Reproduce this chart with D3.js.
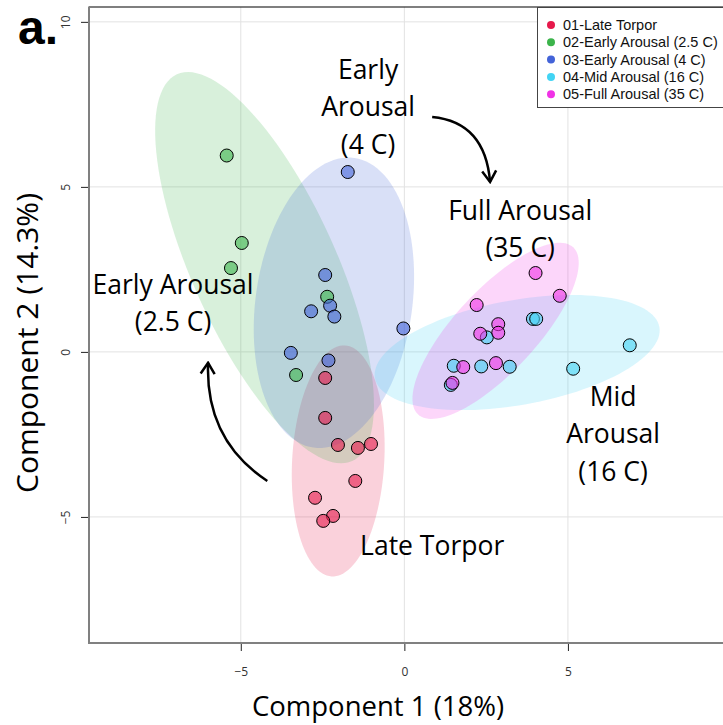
<!DOCTYPE html>
<html>
<head>
<meta charset="utf-8">
<script src="https://cdn.jsdelivr.net/npm/d3@7"></script>
<style>
  body { margin: 0; background: #fff; }
  svg { display: block; }
</style>
</head>
<body>
<div id="chart"></div>
<script>
// groups, colours and PCA scores
var groups = ["01-Late Torpor", "02-Early Arousal (2.5 C)", "03-Early Arousal (4 C)", "04-Mid Arousal (16 C)", "05-Full Arousal (35 C)"];
var colors = ["#e6194B", "#3cb44b", "#4363d8", "#42d4f4", "#f032e6"];

var lateTorpor = [[-2.42, -0.79], [-2.42, -2.0], [-2.03, -2.82], [-1.42, -2.91], [-1.02, -2.79],
                  [-1.5, -3.91], [-2.73, -4.42], [-2.18, -4.97], [-2.48, -5.12]];
var earlyArousal25 = [[-5.43, 5.95], [-4.97, 3.30], [-5.30, 2.54], [-2.36, 1.67], [-3.31, -0.70]];
var earlyArousal4 = [[-1.73, 5.45], [-2.42, 2.33], [-2.27, 1.40], [-2.85, 1.23], [-2.14, 1.07],
                     [-0.03, 0.71], [-3.47, -0.03], [-2.32, -0.26]];
var midArousal = [[3.93, 1.0], [4.03, 1.0], [2.52, 0.44], [6.89, 0.20], [1.51, -0.42],
                  [2.35, -0.44], [3.22, -0.45], [5.16, -0.51], [1.42, -1.0]];
var fullArousal = [[4.01, 2.39], [4.75, 1.70], [2.21, 1.42], [2.87, 0.84], [2.87, 0.58],
                   [2.32, 0.55], [1.80, -0.46], [2.80, -0.34], [1.47, -0.94]];
var series = [lateTorpor, earlyArousal25, earlyArousal4, midArousal, fullArousal];

var xTicks = [-5, 0, 5];
var yTicks = [-5, 0, 5, 10];
var xTitle = "Component 1 (18%)";
var yTitle = "Component 2 (14.3%)";

// text labels and arrows on the plot, in data units
var labels = [
  {lines: ["Early", "Arousal", "(4 C)"], x: -1.11, y: 8.55},
  {lines: ["Full Arousal", "(35 C)"], x: 3.54, y: 4.27},
  {lines: ["Early Arousal", "(2.5 C)"], x: -7.07, y: 2.03},
  {lines: ["Mid", "Arousal", "(16 C)"], x: 6.38, y: -1.36},
  {lines: ["Late Torpor"], x: 0.85, y: -5.88}
];
var arrows = [
  [[0.85, 7.12], [2.47, 6.97], [2.62, 5.15]],
  [[-4.19, -3.91], [-6.09, -2.67], [-6.0, -0.33]]
];

var width = 723, height = 725;
var x = d3.scaleLinear().domain([-9.64, 9.74]).range([89, 723]);
var y = d3.scaleLinear().domain([-8.82, 10.45]).range([643, 7]);

var svg = d3.select("#chart").append("svg")
  .attr("width", width)
  .attr("height", height);

var defs = svg.append("defs");
defs.append("clipPath").attr("id", "clip")
  .append("rect")
  .attr("x", 89).attr("y", 7)
  .attr("width", 634).attr("height", 636);
defs.append("marker")
  .attr("id", "head")
  .attr("markerUnits", "userSpaceOnUse")
  .attr("viewBox", "-14 -9 16 18")
  .attr("markerWidth", 16).attr("markerHeight", 18)
  .attr("refX", 0).attr("refY", 0)
  .attr("orient", "auto")
  .append("path")
  .attr("d", "M-11,-7 L0,0 L-11,7")
  .attr("fill", "none")
  .attr("stroke", "#000")
  .attr("stroke-width", 2.5);

// grid
var grid = svg.append("g");
grid.selectAll(".gx").data(xTicks).enter().append("line")
  .attr("x1", d => x(d)).attr("x2", d => x(d))
  .attr("y1", 7).attr("y2", 643)
  .attr("stroke", "#e2e2e2");
grid.selectAll(".gy").data(yTicks).enter().append("line")
  .attr("x1", 89).attr("x2", 723)
  .attr("y1", d => y(d)).attr("y2", d => y(d))
  .attr("stroke", "#e2e2e2");

// 95% normal confidence ellipses
function ellipse(pts) {
  var n = pts.length;
  var mx = d3.mean(pts, d => d[0]), my = d3.mean(pts, d => d[1]);
  var sxx = 0, syy = 0, sxy = 0;
  pts.forEach(function(d) {
    sxx += (d[0] - mx) * (d[0] - mx);
    syy += (d[1] - my) * (d[1] - my);
    sxy += (d[0] - mx) * (d[1] - my);
  });
  sxx /= (n - 1); syy /= (n - 1); sxy /= (n - 1);
  var tr = sxx + syy, det = sxx * syy - sxy * sxy;
  var disc = Math.sqrt(tr * tr / 4 - det);
  var l1 = tr / 2 + disc, l2 = tr / 2 - disc;
  var ang = Math.atan2(l1 - sxx, sxy);
  var t = Math.sqrt(-2 * Math.log(0.05));
  var a = t * Math.sqrt(l1), b = t * Math.sqrt(Math.max(l2, 0));
  var out = [];
  for (var i = 0; i < 120; i++) {
    var th = i / 120 * 2 * Math.PI;
    var u = a * Math.cos(th), v = b * Math.sin(th);
    out.push([mx + u * Math.cos(ang) - v * Math.sin(ang), my + u * Math.sin(ang) + v * Math.cos(ang)]);
  }
  return out;
}

var line = d3.line().x(d => x(d[0])).y(d => y(d[1])).curve(d3.curveLinearClosed);
var plot = svg.append("g").attr("clip-path", "url(#clip)");

plot.selectAll(".ell").data(series).enter().append("path")
  .attr("class", "ell")
  .attr("d", d => line(ellipse(d)))
  .attr("fill", (d, i) => colors[i])
  .attr("fill-opacity", 0.2)
  .attr("stroke", "none");

series.forEach(function(s, i) {
  plot.selectAll(".pt" + i).data(s).enter().append("circle")
    .attr("cx", d => x(d[0]))
    .attr("cy", d => y(d[1]))
    .attr("r", 6.5)
    .attr("fill", colors[i])
    .attr("fill-opacity", 0.6)
    .attr("stroke", "#000")
    .attr("stroke-width", 1);
});

// annotations
labels.forEach(function(l) {
  var t = svg.append("text")
    .attr("text-anchor", "middle")
    .style("font-family", "'Open Sans', sans-serif")
    .style("font-size", "26.5px")
    .attr("fill", "#000");
  l.lines.forEach(function(s, k) {
    t.append("tspan")
      .attr("x", x(l.x))
      .attr("y", y(l.y) + 9 + k * 37.5)
      .text(s);
  });
});

svg.selectAll(".arrow").data(arrows).enter().append("path")
  .attr("d", d => "M" + x(d[0][0]) + "," + y(d[0][1]) + " Q" + x(d[1][0]) + "," + y(d[1][1]) + " " + x(d[2][0]) + "," + y(d[2][1]))
  .attr("fill", "none")
  .attr("stroke", "#000")
  .attr("stroke-width", 2.5)
  .attr("marker-end", "url(#head)");

// frame and axes
svg.append("rect")
  .attr("x", 89).attr("y", 7)
  .attr("width", 640).attr("height", 636)
  .attr("fill", "none")
  .attr("stroke", "#000");
svg.append("line").attr("x1", 89).attr("x2", 89).attr("y1", 7).attr("y2", 644)
  .attr("stroke", "#808080").attr("stroke-width", 2);
svg.append("line").attr("x1", 88).attr("x2", 723).attr("y1", 643).attr("y2", 643)
  .attr("stroke", "#808080").attr("stroke-width", 2);

var xAxis = svg.append("g")
  .attr("transform", "translate(0,644)")
  .call(d3.axisBottom(x).tickValues(xTicks).tickSize(7).tickPadding(16).tickSizeOuter(0));
xAxis.select(".domain").remove();
xAxis.selectAll("line").attr("stroke", "#222");
xAxis.selectAll("text")
  .style("font-family", "'Open Sans', sans-serif")
  .style("font-size", "12px")
  .attr("fill", "#333");

var yAxis = svg.append("g")
  .attr("transform", "translate(88,0)")
  .call(d3.axisLeft(y).tickValues(yTicks).tickSize(7).tickSizeOuter(0));
yAxis.select(".domain").remove();
yAxis.selectAll("line").attr("stroke", "#222");
yAxis.selectAll("text")
  .attr("x", null).attr("dy", null)
  .attr("text-anchor", "middle")
  .attr("transform", "translate(-18,0) rotate(-90)")
  .style("font-family", "'Open Sans', sans-serif")
  .style("font-size", "12px")
  .attr("fill", "#333");

svg.append("text")
  .attr("x", 378).attr("y", 716)
  .attr("text-anchor", "middle")
  .style("font-family", "'Open Sans', sans-serif")
  .style("font-size", "27.5px")
  .attr("fill", "#000")
  .text(xTitle);

svg.append("text")
  .attr("transform", "translate(38,343) rotate(-90)")
  .attr("text-anchor", "middle")
  .style("font-family", "'Open Sans', sans-serif")
  .style("font-size", "30px")
  .attr("fill", "#000")
  .text(yTitle);

svg.append("text")
  .attr("x", 18).attr("y", 44)
  .style("font-family", "'Liberation Sans', Arial, sans-serif")
  .style("font-weight", "bold")
  .style("font-size", "48px")
  .attr("fill", "#000")
  .text("a.");

// legend
var legend = svg.append("g");
legend.append("rect")
  .attr("x", 537.5).attr("y", 7.5)
  .attr("width", 190).attr("height", 100)
  .attr("fill", "#fff")
  .attr("stroke", "#444");
var item = legend.selectAll(".item").data(groups).enter().append("g")
  .attr("transform", (d, i) => "translate(551," + (25 + i * 17.3) + ")");
item.append("circle")
  .attr("r", 4)
  .attr("fill", (d, i) => colors[i]);
item.append("text")
  .attr("x", 12).attr("y", 5)
  .style("font-family", "'Liberation Sans', Arial, sans-serif")
  .style("font-size", "14.5px")
  .attr("fill", "#111")
  .text(d => d);
</script>
</body>
</html>
